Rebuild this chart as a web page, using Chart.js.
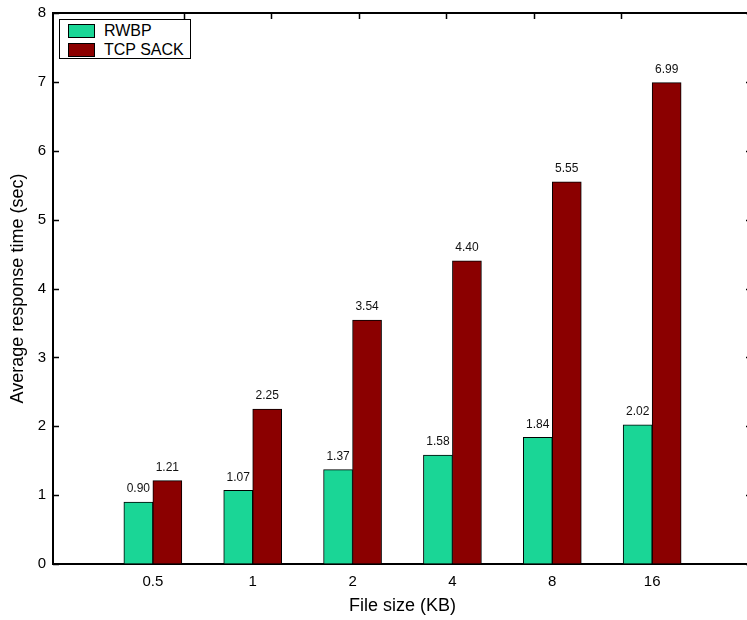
<!DOCTYPE html>
<html>
<head>
<meta charset="utf-8">
<script src="https://cdn.jsdelivr.net/npm/chart.js@4/dist/chart.umd.min.js"></script>
<style>
  html, body { margin: 0; padding: 0; background: #fff; overflow: hidden; }
  #wrap { position: relative; width: 747px; height: 620px; overflow: hidden; }
  canvas { display: block; }
  #legend {
    position: absolute; left: 59px; top: 19px; width: 130px; height: 38px;
    border: 1.5px solid #000; background: #fff; box-sizing: content-box;
    font-family: "Liberation Sans", Arial, sans-serif; font-size: 16px; color: #000;
  }
  #legend .row { position: absolute; left: 8px; height: 14px; display: flex; align-items: center; }
  #legend .sw { width: 25px; height: 12px; border: 1px solid #000; margin-right: 9px; }
</style>
</head>
<body>
<div id="wrap">
  <canvas id="c" width="760" height="620"></canvas>
  <div id="legend"></div>
</div>
<script>
// File sizes on the x axis and mean response times (seconds) per protocol
const fileSizes = ['0.5', '1', '2', '4', '8', '16'];
const rwbpTimes = [0.90, 1.07, 1.37, 1.58, 1.84, 2.02];
const sackTimes = [1.21, 2.25, 3.54, 4.40, 5.55, 6.99];
const yTicks = [0, 1, 2, 3, 4, 5, 6, 7, 8];

const FONT = '"Liberation Sans", Arial, sans-serif';

const toPoints = arr => arr.map((v, i) => ({ x: i, y: v }));

// Short tick marks pointing into the plot area, plus value labels over bars
const innerTicks = {
  id: 'innerTicks',
  afterDatasetsDraw(chart) {
    const ctx = chart.ctx;
    const area = chart.chartArea;
    const y = chart.scales.y;
    const xTop = chart.scales.xTop;
    ctx.save();
    ctx.strokeStyle = '#000';
    ctx.lineWidth = 1.5;
    ctx.beginPath();
    yTicks.forEach(v => {
      const py = Math.round(y.getPixelForValue(v)) + 0.5;
      ctx.moveTo(area.left, py); ctx.lineTo(area.left + 6, py);
      ctx.moveTo(area.right - 6, py); ctx.lineTo(area.right, py);
    });
    fileSizes.forEach((_, i) => {
      const px = Math.round(xTop.getPixelForValue(i)) + 0.5;
      ctx.moveTo(px, area.top); ctx.lineTo(px, area.top + 6);
    });
    ctx.stroke();

    ctx.fillStyle = '#111';
    ctx.font = '12px ' + FONT;
    ctx.textAlign = 'center';
    ctx.textBaseline = 'bottom';
    chart.data.datasets.forEach((ds, di) => {
      const meta = chart.getDatasetMeta(di);
      meta.data.forEach((bar, i) => {
        ctx.fillText(ds.data[i].y.toFixed(2), bar.x, bar.y - 7);
      });
    });
    ctx.restore();
  }
};

const chart = new Chart(document.getElementById('c'), {
  type: 'bar',
  data: {
    datasets: [
      { label: 'RWBP', data: toPoints(rwbpTimes), backgroundColor: '#1ad696', borderColor: '#000', borderWidth: 1, barThickness: 29 },
      { label: 'TCP SACK', data: toPoints(sackTimes), backgroundColor: '#8b0000', borderColor: '#000', borderWidth: 1, barThickness: 29 }
    ]
  },
  options: {
    responsive: false,
    animation: false,
    devicePixelRatio: 1,
    layout: { padding: 0 },
    plugins: { legend: { display: false }, tooltip: { enabled: false } },
    scales: {
      x: {
        type: 'linear', position: 'bottom', min: -1, max: 6, offset: false,
        afterBuildTicks: s => { s.ticks = fileSizes.map((_, i) => ({ value: i })); },
        afterFit: s => { s.height = 56; s.paddingLeft = 0; s.paddingRight = 0; },
        grid: { display: true, drawOnChartArea: false, drawTicks: false },
        border: { display: true, color: '#000', width: 2 },
        ticks: { padding: 9, color: '#000', font: { family: FONT, size: 15 }, callback: v => fileSizes[v] },
        title: { display: true, text: 'File size (KB)', color: '#000', font: { family: FONT, size: 18 }, padding: { top: 0, bottom: 3 } }
      },
      xTop: {
        type: 'linear', position: 'top', min: -1, max: 6,
        afterFit: s => { s.height = 13; },
        grid: { drawOnChartArea: false, drawTicks: false },
        border: { display: true, color: '#000', width: 2 },
        ticks: { display: false }
      },
      y: {
        type: 'linear', position: 'left', min: 0, max: 8,
        afterBuildTicks: s => { s.ticks = yTicks.map(v => ({ value: v })); },
        afterFit: s => { s.width = 53; s.paddingTop = 0; s.paddingBottom = 0; },
        grid: { drawOnChartArea: false, drawTicks: false },
        border: { display: true, color: '#000', width: 2 },
        ticks: { padding: 7, color: '#000', font: { family: FONT, size: 15 } },
        title: { display: true, text: 'Average response time (sec)', color: '#000', font: { family: FONT, size: 18 }, padding: { top: 7, bottom: 0 } }
      },
      yRight: {
        type: 'linear', position: 'right', min: 0, max: 8,
        afterFit: s => { s.width = 8; },
        grid: { drawOnChartArea: false, drawTicks: false },
        border: { display: true, color: '#000', width: 2 },
        ticks: { display: false }
      }
    }
  },
  plugins: [innerTicks]
});

// Legend built from the chart's own datasets
const legend = document.getElementById('legend');
chart.data.datasets.forEach((ds, i) => {
  const row = document.createElement('div');
  row.className = 'row';
  row.style.top = (i === 0 ? 4 : 23) + 'px';
  const sw = document.createElement('span');
  sw.className = 'sw';
  sw.style.background = ds.backgroundColor;
  const tx = document.createElement('span');
  tx.textContent = ds.label;
  row.appendChild(sw); row.appendChild(tx);
  legend.appendChild(row);
});
</script>
</body>
</html>
